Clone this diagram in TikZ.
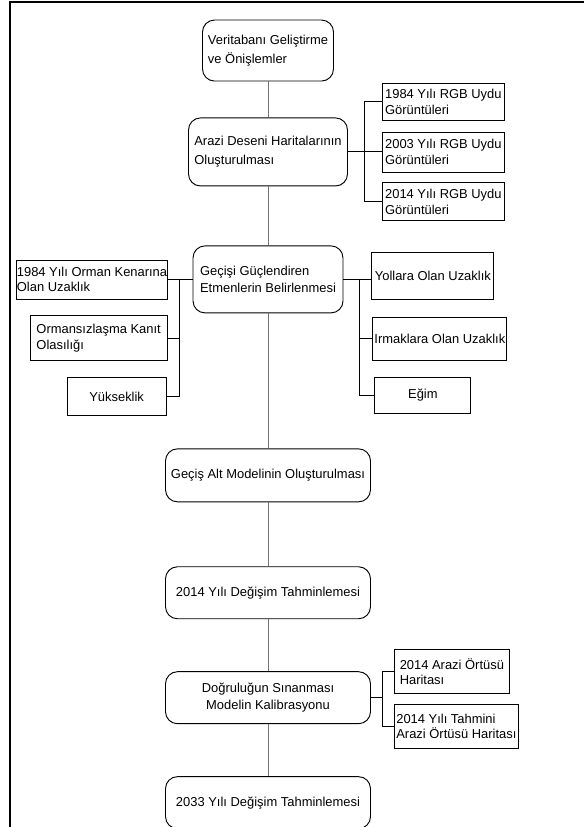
\documentclass[tikz,border=0pt]{standalone}
\usepackage{fontspec}
\setmainfont{Liberation Sans}
\usetikzlibrary{positioning}
\definecolor{cline}{gray}{0.45}

\begin{document}
\begin{tikzpicture}[
    stage/.style={draw, line width=0.7pt, rounded corners=9pt, minimum width=#1, align=left, inner xsep=3pt, font=\fontsize{9.7}{12.5}\selectfont},
    stage/.default=153.75pt,
    side/.style={draw, line width=0.6pt, rectangle, minimum width=#1, align=left, inner xsep=1pt, inner ysep=1pt, font=\fontsize{9.7}{11.5}\selectfont},
    side/.default=91.5pt,
    link/.style={draw=cline, line width=0.6pt},
    sidelink/.style={draw=black, line width=0.75pt},
    frame/.style={line width=1.6pt}
]
\useasboundingbox (0,0) rectangle (438pt,-620.25pt);

\node[stage=98.25pt, minimum height=45.75pt, font=\fontsize{9.7}{14}\selectfont] (db) at (201pt,-37.9pt) {Veritabanı Geliştirme\\ve Önişlemler};
\node[stage=119.25pt, minimum height=51pt, below=27pt of db, font=\fontsize{9.7}{14}\selectfont] (map) {Arazi Deseni Haritalarının\\Oluşturulması};
\node[stage=112.5pt, minimum height=50.25pt, below=44.25pt of map] (fac) {Geçişi Güçlendiren\\Etmenlerin Belirlenmesi};
\node[stage, minimum height=39.75pt, below=101.25pt of fac] (sub) {Geçiş Alt Modelinin Oluşturulması};
\node[stage, minimum height=39pt, below=48pt of sub] (pred) {2014 Yılı Değişim Tahminlemesi};
\node[stage, minimum height=39pt, below=39pt of pred, align=center] (val) {Doğruluğun Sınanması\\Modelin Kalibrasyonu};
\node[stage, minimum height=39pt, below=39pt of val] (fut) {2033 Yılı Değişim Tahminlemesi};

\node[side, minimum height=30pt, right=25.5pt of map] (rgbB) {2003 Yılı RGB Uydu\\Görüntüleri};
\node[side, minimum height=28pt, above=8pt of rgbB] (rgbA) {1984 Yılı RGB Uydu\\Görüntüleri};
\node[side, minimum height=28.5pt, below=7.5pt of rgbB] (rgbC) {2014 Yılı RGB Uydu\\Görüntüleri};

\node[side=109.5pt, minimum height=29.25pt, inner xsep=0pt, left=18.75pt of fac] (edge) {1984 Yılı Orman Kenarına\\Olan Uzaklık};
\node[side=102.75pt, minimum height=33.75pt, below=12pt of edge.south east, anchor=north east] (defo) {Ormansızlaşma Kanıt\\Olasılığı};
\node[side=74.25pt, minimum height=28.5pt, below=12pt of defo.south east, anchor=north east, xshift=-0.75pt] (elev) {Yükseklik};

\node[side, minimum height=35.25pt, right=21pt of fac, yshift=2.6pt] (road) {Yollara Olan Uzaklık};
\node[side=100.5pt, minimum height=32.25pt, inner xsep=0pt, below=12.75pt of road.south west, anchor=north west, xshift=0.75pt] (river) {Irmaklara Olan Uzaklık};
\node[side=72pt, minimum height=27pt, below=12pt of river.south west, anchor=north west, xshift=1.5pt] (slope) {Eğim};

\node[side=86.25pt, minimum height=33pt, right=17.25pt of val, yshift=19.5pt] (lc) {2014 Arazi Örtüsü\\Haritası};
\node[side=93pt, minimum height=33pt, below=7.5pt of lc.south west, anchor=north west] (lcpred) {2014 Yılı Tahmini\\Arazi Örtüsü Haritası};

\draw[link] (db) -- (map);
\draw[link] (map) -- (fac);
\draw[link] (fac) -- (sub);
\draw[link] (sub) -- (pred);
\draw[link] (pred) -- (val);
\draw[link] (val) -- (fut);

\draw[sidelink] (map.east) -- ++(12.75pt,0) coordinate (mapbus) -- (rgbB.west);
\draw[sidelink] (rgbA.west) -| (mapbus) |- (rgbC.west);

\draw[sidelink] (fac.west) -- (edge.east);
\draw[sidelink] (fac.west) ++(-9.75pt,0) coordinate (facL) |- (elev.east);
\draw[sidelink] (facL |- defo.east) -- (defo.east);

\draw[sidelink] (fac.east) -- ++(12pt,0) coordinate (facR) -- (road.west |- facR);
\draw[sidelink] (facR) |- (slope.west);
\draw[sidelink] (facR |- river.west) -- (river.west);

\draw[sidelink] (val.east) -- ++(9pt,0) coordinate (valR);
\draw[sidelink] (lc.west) -| (valR) |- (lcpred.west);

\draw[frame] (7.5pt,-620.25pt) |- (438pt,-1.2pt);

\end{tikzpicture}
\end{document}
